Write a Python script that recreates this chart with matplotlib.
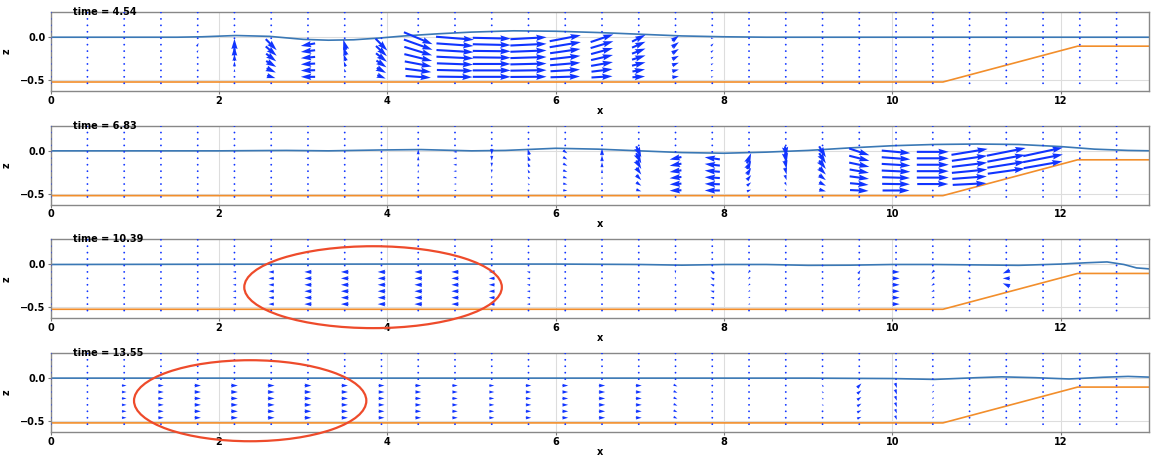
import numpy as np
import matplotlib
matplotlib.use("Agg")
import matplotlib.pyplot as plt
from matplotlib.patches import Ellipse

# ---- grid of the velocity field ----
x_grid = np.linspace(0, 13.1, 31)
z_grid = np.linspace(-0.54, 0.29, 12)

# ---- bed profile ----
bed_x = [0.0, 10.6, 12.2, 13.1]
bed_z = [-0.525, -0.525, -0.105, -0.105]

times = ["4.54", "6.83", "10.39", "13.55"]

# ---- free surface for each snapshot ----
eta1_x = [0, 0.5, 1.0, 1.5, 1.8, 2.2, 2.6, 3.0, 3.3, 3.6, 3.9, 4.2, 4.6, 5.0, 5.5,
          6.0, 6.5, 7.0, 7.5, 8.0, 8.5, 9.0, 10.0, 11.0, 12.0, 13.1]
eta1_z = [0, 0, 0, 0, 0.005, 0.02, 0.01, -0.025, -0.035, -0.03, -0.01, 0.015, 0.04, 0.06, 0.075,
          0.07, 0.055, 0.035, 0.015, 0.005, 0, 0, 0, 0, 0, 0]

eta2_x = [0, 1.0, 2.0, 2.8, 3.3, 3.9, 4.4, 5.0, 5.4, 6.0, 6.5, 7.0, 7.5, 8.0, 8.5,
          9.0, 9.5, 10.0, 10.5, 11.0, 11.5, 12.0, 12.4, 12.8, 13.1]
eta2_z = [0, 0, 0, 0.005, 0, 0.01, 0.015, 0, 0.005, 0.03, 0.02, 0.0, -0.02, -0.028, -0.015,
          0.005, 0.035, 0.06, 0.075, 0.08, 0.075, 0.05, 0.02, 0.005, 0]

eta3_x = [0, 2.0, 4.0, 6.0, 7.0, 7.5, 8.0, 8.5, 9.0, 9.5, 10.0, 10.5, 11.0, 11.5,
          12.0, 12.3, 12.55, 12.75, 12.9, 13.1]
eta3_z = [0, 0.003, 0.005, 0.005, 0.0, -0.008, 0, 0, -0.01, -0.008, 0, 0, -0.005, -0.01,
          0.005, 0.02, 0.03, 0.0, -0.04, -0.055]

eta4_x = [0, 2.0, 4.0, 6.0, 8.0, 9.0, 10.0, 10.5, 11.0, 11.3, 11.7, 12.1, 12.5, 12.8, 13.1]
eta4_z = [0, 0, 0, 0, 0, 0, -0.005, -0.015, 0.005, 0.015, 0.005, -0.01, 0.01, 0.02, 0.01]

# ---- velocity arrows: column index -> values for rows 1..7 (bottom to top) ----
p1_cols = [4, 5, 6, 7, 8, 9, 10, 11, 12, 13, 14, 15, 16, 17, 18]
p1_u = [
    [0, 0.005, 0.01, 0.01, 0.015, 0.02, 0],
    [0, 0, 0, 0, 0, 0, 0],
    [0.10, 0.11, 0.12, 0.12, 0.13, 0.13, 0],
    [-0.17, -0.17, -0.17, -0.17, -0.17, -0.17, 0],
    [-0.01, -0.015, -0.02, -0.025, -0.03, -0.035, 0],
    [0.10, 0.11, 0.12, 0.13, 0.13, 0.14, 0],
    [0.30, 0.31, 0.32, 0.33, 0.33, 0.34, 0.34],
    [0.42, 0.43, 0.43, 0.44, 0.44, 0.44, 0.45],
    [0.45, 0.45, 0.45, 0.45, 0.45, 0.45, 0.45],
    [0.43, 0.43, 0.43, 0.43, 0.43, 0.43, 0.43],
    [0.35, 0.35, 0.36, 0.36, 0.36, 0.37, 0.37],
    [0.25, 0.25, 0.26, 0.26, 0.26, 0.27, 0.27],
    [0.15, 0.15, 0.16, 0.16, 0.16, 0.16, 0.16],
    [0.08, 0.08, 0.08, 0.08, 0.08, 0.08, 0.08],
    [0.03, 0.03, 0.03, 0.03, 0.03, 0.03, 0.03],
]
p1_w = [
    [0.005, 0.01, 0.015, 0.02, 0.03, 0.04, 0],
    [0.015, 0.035, 0.06, 0.08, 0.11, 0.14, 0],
    [-0.03, -0.05, -0.07, -0.09, -0.11, -0.13, 0],
    [0, -0.005, -0.01, -0.015, -0.02, -0.03, 0],
    [0.02, 0.04, 0.06, 0.08, 0.10, 0.12, 0],
    [-0.04, -0.06, -0.08, -0.10, -0.12, -0.14, 0],
    [-0.02, -0.04, -0.06, -0.08, -0.10, -0.12, -0.14],
    [-0.005, -0.01, -0.015, -0.02, -0.025, -0.03, -0.035],
    [0, 0, 0, -0.005, -0.005, -0.01, -0.01],
    [0.003, 0.006, 0.01, 0.013, 0.016, 0.02, 0.023],
    [0.01, 0.02, 0.03, 0.04, 0.05, 0.06, 0.07],
    [0.015, 0.03, 0.045, 0.06, 0.07, 0.08, 0.09],
    [0.01, 0.025, 0.04, 0.05, 0.06, 0.07, 0.08],
    [0.01, 0.02, 0.03, 0.04, 0.05, 0.06, 0.06],
    [0.005, 0.01, 0.015, 0.02, 0.025, 0.03, 0],
]

p2_cols = [10, 11, 12, 13, 14, 15, 16, 17, 18, 19, 20, 21, 22, 23, 24, 25, 26, 27]
p2_u = [
    [0, 0, 0, 0, 0, 0, 0],
    [-0.03, -0.03, -0.035, -0.035, -0.04, -0.04, -0.04],
    [0, 0, 0, 0, 0, 0, 0],
    [-0.02, -0.02, -0.02, -0.02, -0.02, -0.02, -0.02],
    [0.05, 0.05, 0.05, 0.05, 0.05, 0.05, 0.05],
    [0, 0, 0, 0, 0, 0, 0],
    [0.06, 0.06, 0.06, 0.06, 0.06, 0.06, 0.06],
    [-0.14, -0.14, -0.14, -0.14, -0.14, -0.14, 0],
    [-0.18, -0.18, -0.18, -0.18, -0.18, -0.18, 0],
    [0.05, 0.05, 0.05, 0.05, 0.05, 0.05, 0],
    [0.02, 0.02, 0.02, 0.02, 0.02, 0.02, 0.02],
    [0.08, 0.08, 0.08, 0.08, 0.08, 0.08, 0.08],
    [0.22, 0.22, 0.23, 0.23, 0.24, 0.24, 0.24],
    [0.32, 0.33, 0.33, 0.34, 0.34, 0.34, 0.34],
    [0, 0.37, 0.38, 0.38, 0.38, 0.38, 0.38],
    [0, 0.40, 0.41, 0.42, 0.42, 0.42, 0.43],
    [0, 0, 0, 0.44, 0.45, 0.45, 0.46],
    [0, 0, 0, 0, 0.46, 0.47, 0.47],
]
p2_w = [
    [0.005, 0.01, 0.02, 0.03, 0.04, 0.05, 0.06],
    [0, 0, 0, 0, 0, 0, 0],
    [-0.01, -0.02, -0.03, -0.04, -0.05, -0.06, -0.07],
    [0.01, 0.02, 0.03, 0.04, 0.05, 0.06, 0.07],
    [-0.005, -0.01, -0.015, -0.02, -0.025, -0.03, -0.035],
    [0.01, 0.02, 0.03, 0.045, 0.06, 0.07, 0.08],
    [-0.02, -0.04, -0.06, -0.08, -0.10, -0.12, -0.13],
    [-0.005, -0.01, -0.015, -0.02, -0.025, -0.03, 0],
    [0, 0.005, 0.01, 0.015, 0.02, 0.025, 0],
    [0.02, 0.04, 0.06, 0.08, 0.10, 0.12, 0],
    [-0.02, -0.04, -0.06, -0.08, -0.10, -0.12, -0.13],
    [-0.02, -0.04, -0.06, -0.08, -0.10, -0.12, -0.13],
    [-0.01, -0.02, -0.03, -0.04, -0.05, -0.06, -0.08],
    [0, -0.005, -0.01, -0.015, -0.02, -0.025, -0.03],
    [0, 0, 0, 0, 0, 0, 0],
    [0, 0.02, 0.03, 0.04, 0.05, 0.06, 0.07],
    [0, 0, 0, 0.06, 0.07, 0.08, 0.09],
    [0, 0, 0, 0, 0.08, 0.09, 0.10],
]

p3_cols = [4, 5, 6, 7, 8, 9, 10, 11, 12, 13, 17, 18, 19, 22, 23, 24, 25, 26]
p3_u = [
    [-0.015] * 6 + [0],
    [-0.04] * 6 + [0],
    [-0.065] * 6 + [0],
    [-0.085] * 6 + [0],
    [-0.09] * 6 + [0],
    [-0.09] * 6 + [0],
    [-0.09] * 6 + [0],
    [-0.085] * 6 + [0],
    [-0.07] * 6 + [0],
    [-0.04] * 6 + [0],
    [0.005] * 6 + [0],
    [-0.045] * 6 + [0],
    [-0.025] * 6 + [0],
    [0.025] * 6 + [0],
    [0.085] * 6 + [0],
    [-0.035] * 6 + [0],
    [0, 0, 0, 0, 0, 0.04, 0],
    [0, 0, 0, -0.085, -0.085, -0.085, 0],
]
p3_w = [
    [0] * 7,
    [0] * 7,
    [0] * 7,
    [0] * 7,
    [0] * 7,
    [0] * 7,
    [0] * 7,
    [0] * 7,
    [0] * 7,
    [0, 0.002, 0.004, 0.006, 0.008, 0.01, 0],
    [-0.005, -0.01, -0.015, -0.02, -0.025, -0.035, 0],
    [0.005, 0.01, 0.015, 0.02, 0.025, 0.035, 0],
    [-0.005, -0.01, -0.015, -0.02, -0.025, -0.035, 0],
    [0.008, 0.015, 0.022, 0.03, 0.036, 0.042, 0],
    [0] * 7,
    [-0.006, -0.012, -0.018, -0.024, -0.03, -0.035, 0],
    [0, 0, 0, 0, 0, -0.02, 0],
    [0, 0, 0, 0.035, 0.0, -0.035, 0],
]

p4_cols = [2, 3, 4, 5, 6, 7, 8, 9, 10, 11, 12, 13, 14, 15, 16, 17, 18, 21, 22, 23, 24]
p4_u = [
    [0.055] * 6 + [0],
    [0.065] * 6 + [0],
    [0.075] * 6 + [0],
    [0.08] * 6 + [0],
    [0.08] * 6 + [0],
    [0.08] * 6 + [0],
    [0.075] * 6 + [0],
    [0.07] * 6 + [0],
    [0.07] * 6 + [0],
    [0.065] * 6 + [0],
    [0.06] * 6 + [0],
    [0.065] * 6 + [0],
    [0.07] * 6 + [0],
    [0.075] * 6 + [0],
    [0.07] * 6 + [0],
    [0.045] * 6 + [0],
    [0.02] * 6 + [0],
    [-0.02] * 6 + [0],
    [0.05] * 6 + [0],
    [0.02] * 6 + [0],
    [-0.02] * 6 + [0],
]
p4_w = [[0] * 7] * 15 + [
    [-0.02] * 6 + [0],
    [0] * 7,
    [0.01, 0.012, 0.015, 0.018, 0.02, 0.025, 0],
    [0.02, 0.025, 0.03, 0.035, 0.04, 0.05, 0],
    [-0.05, -0.05, -0.055, -0.055, -0.06, -0.06, 0],
    [-0.02] * 6 + [0],
]

# ---- red highlight ellipses (panel index, center x, center z, width, height) ----
ellipses = [(2, 3.83, -0.266, 3.06, 0.96), (3, 2.37, -0.265, 2.76, 0.95)]

etas = [(eta1_x, eta1_z), (eta2_x, eta2_z), (eta3_x, eta3_z), (eta4_x, eta4_z)]
fields = [(p1_cols, p1_u, p1_w), (p2_cols, p2_u, p2_w),
          (p3_cols, p3_u, p3_w), (p4_cols, p4_u, p4_w)]

plt.rcParams['font.family'] = 'DejaVu Sans'
plt.rcParams['font.weight'] = 'bold'

fig, axes = plt.subplots(4, 1, figsize=(11.52, 4.57), dpi=100)
fig.subplots_adjust(left=0.044, right=0.9975, top=0.974, bottom=0.055, hspace=0.437)

X, Z = np.meshgrid(x_grid, z_grid)

for i, ax in enumerate(axes):
    cols, us, ws = fields[i]
    U = np.zeros_like(X)
    W = np.zeros_like(X)
    for c, uc, wc in zip(cols, us, ws):
        U[1:8, c] = uc
        W[1:8, c] = wc

    ax.grid(True, color='#dddddd', linewidth=0.8, zorder=0)
    ax.plot(etas[i][0], etas[i][1], color='#3a78b5', linewidth=1.2, zorder=2)
    ax.plot(bed_x, bed_z, color='#f28e2b', linewidth=1.2, zorder=2)
    ax.quiver(X, Z, U, W, angles='xy', scale_units='xy', scale=1, pivot='middle',
              width=0.0019, minlength=0.95, color='#1034ff', zorder=3)

    ax.set_xlim(0, 13.05)
    ax.set_ylim(-0.63, 0.297)
    ax.set_xticks([0, 2, 4, 6, 8, 10, 12])
    ax.set_yticks([-0.5, 0.0])
    ax.set_yticklabels(['\u22120.5', '0.0'])
    ax.tick_params(labelsize=7, length=2.5, color='#777777', pad=1)
    for s in ax.spines.values():
        s.set_color('#888888')
        s.set_linewidth(1.0)
    ax.set_xlabel('x', fontsize=7, fontweight='bold', labelpad=0)
    ax.set_ylabel('z', fontsize=7, fontweight='bold', labelpad=6)
    ax.text(0.02, 1.0, 'time = ' + times[i], transform=ax.transAxes,
            fontsize=7, fontweight='bold', va='center', ha='left', zorder=5)

for idx, cx, cz, w, h in ellipses:
    e = Ellipse((cx, cz), w, h, fill=False, edgecolor='#ee4b2b', linewidth=1.6,
                clip_on=False, zorder=6)
    axes[idx].add_patch(e)

fig.savefig('out.png', dpi=100)
